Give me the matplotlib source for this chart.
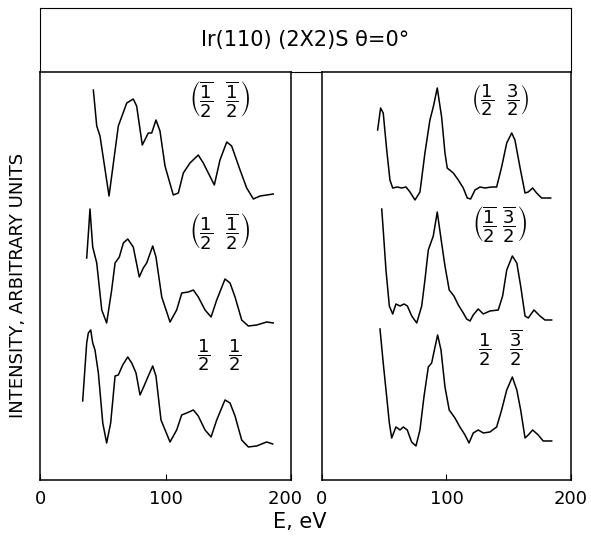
import matplotlib
matplotlib.use("Agg")
import matplotlib.pyplot as plt

# --- digitised I-V curves (E in eV, intensity in arbitrary units) ---
# left panel
e_m_m = [42.5, 45.2, 47.8, 55, 62.4, 69.1, 74.3, 77, 81.5, 86.3, 89, 92.4, 95.6, 99.6,
         106.2, 110.2, 114.2, 119.5, 126.1, 130.1, 138.9, 143.4, 148.8, 152.7, 159.4,
         164.7, 170, 175.3, 180.6, 185.9]
i_m_m = [109, 73, 63, 3, 73, 96, 100, 93, 54, 66, 66, 79, 68, 33, 4, 6, 26, 36, 44, 36,
         14, 39, 57, 53, 29, 11, 0, 3, 4, 5]

e_p_m = [37.2, 39, 39.8, 42, 45.2, 49.2, 53.1, 57.1, 59.8, 63.2, 66.4, 69.9, 74.3, 79.1,
         82.3, 85, 89.8, 92.4, 97, 103.6, 108.9, 112.9, 118.2, 122.2, 126.1, 131.5, 136.3,
         140.8, 147.4, 151.4, 155.4, 160.7, 166, 172.7, 180.6, 185.9]
i_p_m = [68, 101, 117, 79, 63, 16, 3, 36, 63, 69, 83, 87, 79, 49, 58, 63, 80, 69, 29, 4,
         16, 33, 34, 36, 29, 16, 9, 26, 47, 43, 29, 6, 0, 1, 4, 3]

e_p_p = [34, 37.2, 38.5, 40.4, 42, 43.8, 46.5, 50, 53.1, 56.3, 59.8, 62.4, 65.9, 69.9,
         73.1, 76.5, 79.7, 82.9, 86.3, 89.8, 92.4, 96.4, 103.6, 108.9, 112.9, 116.9, 122.2,
         126.1, 131.5, 136.3, 140.8, 147.4, 151.4, 155.4, 160.7, 166, 172.7, 180.6, 185.4]
i_p_p = [46, 104, 114, 117, 104, 97, 74, 24, 4, 24, 71, 72, 82, 90, 84, 74, 52, 61, 71,
         81, 71, 27, 5, 17, 32, 34, 37, 31, 17, 10, 27, 47, 44, 31, 7, 0, 1, 5, 3]

# right panel
e_p_3 = [44.7, 47.1, 49.2, 52, 54.6, 56.8, 60.5, 64, 67.5, 70.7, 74.7, 78.7, 82.7, 86.7,
         89.4, 92.6, 96.1, 98.8, 100.6, 105.5, 109.5, 113.5, 116.7, 119.4, 122.9, 126.9,
         130.9, 136.3, 140.3, 144.3, 148.4, 152.4, 155, 159, 163.1, 165.7, 169.2, 172.4,
         176.4, 180.5, 183.7]
i_p_3 = [70, 92, 87, 50, 20, 12, 13, 12, 13, 8, 0, 8, 47, 80, 93, 112, 83, 47, 32, 27,
         20, 12, 2, 1, 10, 13, 12, 13, 13, 33, 57, 67, 60, 33, 7, 8, 12, 7, 2, 2, 2]

e_m_3m = [48, 49.2, 51.4, 54.1, 56.8, 59.4, 62.7, 65.9, 68.6, 72.1, 76.1, 80.1, 82.7,
          85.4, 89.4, 92.6, 96.1, 98.8, 102.2, 106, 109.5, 113.5, 116.2, 118.9, 121.5,
          125.5, 129.6, 134.9, 141.6, 145.1, 148.4, 152.9, 156.5, 159.6, 163.1, 165.7,
          170.3, 175.1, 179.1, 184.5]
i_m_3m = [114, 93, 53, 17, 9, 19, 17, 19, 17, 7, 0, 17, 43, 73, 87, 111, 80, 57, 33, 27,
          18, 10, 4, 2, 8, 14, 9, 12, 13, 27, 53, 67, 60, 37, 7, 5, 13, 7, 3, 3]

e_p_3m = [46.6, 49.2, 52, 54.1, 56, 59.4, 62.7, 65.3, 68.5, 72, 75.5, 78.7, 81.9, 85.4,
          88.1, 90.8, 92.9, 95.6, 98.8, 102.2, 106.8, 110.8, 114.9, 118.1, 121.5, 125.5,
          129.6, 134.9, 140.3, 144.3, 148.4, 152.9, 156.5, 159.6, 163.1, 165.7, 169.2,
          173.7, 177.7, 184.5]
i_p_3m = [117, 83, 49, 23, 8, 19, 16, 19, 16, 4, 0, 16, 49, 79, 83, 99, 111, 96, 59, 36,
          28, 19, 11, 3, 13, 16, 13, 14, 19, 36, 56, 69, 56, 36, 8, 11, 16, 11, 5, 5]

left_curves = [(e_m_m, i_m_m), (e_p_m, i_p_m), (e_p_p, i_p_p)]
right_curves = [(e_p_3, i_p_3), (e_m_3m, i_m_3m), (e_p_3m, i_p_3m)]
left_offsets = [281, 154, 33]
right_offsets = [280, 157, 34]

ob = r"\overline{1}"
ob3 = r"\overline{3}"
left_labels = [rf"$\left(\dfrac{{{ob}}}{{2}}\ \ \dfrac{{{ob}}}{{2}}\right)$",
               rf"$\left(\dfrac{{1}}{{2}}\ \ \dfrac{{{ob}}}{{2}}\right)$",
               r"$\dfrac{1}{2}\ \ \ \dfrac{1}{2}$"]
right_labels = [r"$\left(\dfrac{1}{2}\ \ \dfrac{3}{2}\right)$",
                rf"$\left(\dfrac{{{ob}}}{{2}}\ \dfrac{{{ob3}}}{{2}}\right)$",
                rf"$\dfrac{{1}}{{2}}\ \ \ \dfrac{{{ob3}}}{{2}}$"]
left_label_y = [380, 248, 125]
right_label_y = [380, 255, 132]

plt.rcParams['mathtext.fontset'] = 'dejavusans'
fig = plt.figure(figsize=(5.91, 5.39), dpi=100)

# title box
ax_t = fig.add_axes([0.0677, 0.8664, 0.8985, 0.1188])
ax_t.set_xticks([])
ax_t.set_yticks([])
ax_t.text(0.5, 0.5, "Ir(110) (2X2)S θ=0°", ha="center", va="center", fontsize=15,
          transform=ax_t.transAxes)

ax_l = fig.add_axes([0.0677, 0.1095, 0.4247, 0.7569])
ax_r = fig.add_axes([0.5448, 0.1095, 0.4213, 0.7569])

for ax, curves, offs, labels, ly in [
        (ax_l, left_curves, left_offsets, left_labels, left_label_y),
        (ax_r, right_curves, right_offsets, right_labels, right_label_y)]:
    for (e, inten), off, lab, y in zip(curves, offs, labels, ly):
        ax.plot(e, [v + off for v in inten], color="black", lw=1.1)
        ax.text(143, y, lab, ha="center", va="center", fontsize=13)
    ax.set_xlim(0, 200)
    ax.set_ylim(0, 408)
    ax.set_yticks([])
    ax.set_xticks([0, 100, 200])
    ax.tick_params(axis="x", direction="in", length=4, labelsize=13, pad=7)
    for s in ax.spines.values():
        s.set_linewidth(1.1)

ax_l.set_xticklabels(["0", "100", "200  "])

fig.text(0.508, 0.032, "E, eV", ha="center", va="center", fontsize=15)
fig.text(0.03, 0.47, "INTENSITY, ARBITRARY UNITS", rotation=90, ha="center",
         va="center", fontsize=13)

fig.savefig("out.png", dpi=100)
